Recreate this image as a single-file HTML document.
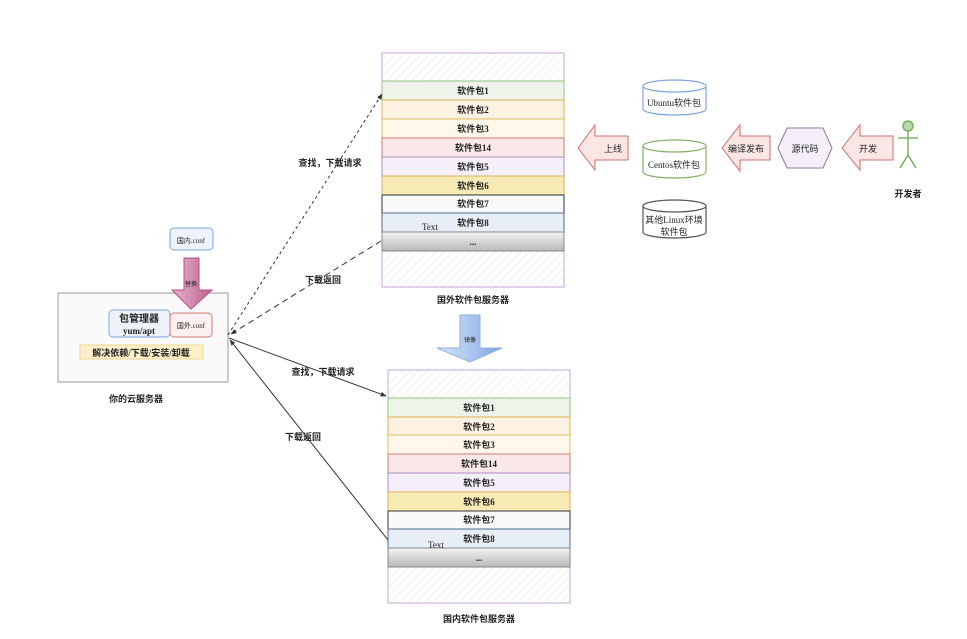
<!DOCTYPE html>
<html><head><meta charset="utf-8"><style>
html,body{margin:0;padding:0;background:#fff;width:967px;height:639px;overflow:hidden}
svg text{font-family:"Liberation Serif","Noto Sans CJK SC",serif;font-size:9px;fill:#222}
.b{font-weight:bold}
</style></head><body>
<svg width="967" height="639" viewBox="0 0 967 639" xmlns="http://www.w3.org/2000/svg">
<defs>
<pattern id="h" width="6" height="6" patternUnits="userSpaceOnUse" patternTransform="rotate(45)"><line x1="0" y1="0" x2="0" y2="6" stroke="#e6e0ea" stroke-width="1"/></pattern>
<linearGradient id="g" x1="0" y1="0" x2="0" y2="1"><stop offset="0" stop-color="#f4f4f4"/><stop offset="1" stop-color="#b8b8b8"/></linearGradient>
<linearGradient id="bl" x1="0" y1="0" x2="1" y2="0"><stop offset="0" stop-color="#dae8fc"/><stop offset="1" stop-color="#7ea6e0"/></linearGradient>
<linearGradient id="pk" x1="0" y1="0" x2="1" y2="0"><stop offset="0" stop-color="#e6b3cc"/><stop offset="1" stop-color="#c0628f"/></linearGradient>
<marker id="ar" viewBox="0 0 10 10" refX="9" refY="5" markerWidth="6" markerHeight="6" orient="auto"><path d="M0,1 L10,5 L0,9 z" fill="#333"/></marker>
</defs>

<!-- upper server -->
<rect x="382" y="53" width="182" height="234" fill="url(#h)" stroke="#c3a9d6"/>
<g>
<rect x="382" y="81" width="182" height="19" fill="#eef4ea" stroke="#97c27e"/>
<rect x="382" y="100" width="182" height="19" fill="#fdf1e2" stroke="#e0b050"/>
<rect x="382" y="119" width="182" height="19" fill="#fff8ea" stroke="#dcbc60"/>
<rect x="382" y="138" width="182" height="19" fill="#fbe9e9" stroke="#d07a76"/>
<rect x="382" y="157" width="182" height="19" fill="#f4eff9" stroke="#ab8ec3"/>
<rect x="382" y="176" width="182" height="19" fill="#f8eab4" stroke="#d6b656"/>
<rect x="382" y="195" width="182" height="18" fill="#fafafa" stroke="#333"/>
<rect x="382" y="213" width="182" height="19" fill="#e8eef5" stroke="#4d6a8a"/>
<rect x="382" y="232" width="182" height="19" fill="url(#g)" stroke="#888"/>
</g>
<g class="b" text-anchor="middle">
<text x="473" y="94">软件包1</text><text x="473" y="113">软件包2</text><text x="473" y="132">软件包3</text>
<text x="473" y="151">软件包14</text><text x="473" y="170">软件包5</text><text x="473" y="189">软件包6</text>
<text x="473" y="207">软件包7</text><text x="473" y="226">软件包8</text><text x="473" y="245">...</text>
</g>
<text x="422" y="230" fill="#555">Text</text>
<text x="473" y="303" class="b" text-anchor="middle">国外软件包服务器</text>

<!-- mirror arrow -->
<path d="M460,315 H480 V348 H502 L470,362 L437,348 H460 Z" fill="url(#bl)" stroke="#8fb0dc"/>
<text x="470" y="342" text-anchor="middle" style="font-size:6px">镜像</text>

<!-- lower server -->
<rect x="388" y="370" width="182" height="233" fill="url(#h)" stroke="#c3a9d6"/>
<g>
<rect x="388" y="398" width="182" height="19" fill="#eef4ea" stroke="#97c27e"/>
<rect x="388" y="417" width="182" height="18" fill="#fdf1e2" stroke="#e0b050"/>
<rect x="388" y="435" width="182" height="19" fill="#fff8ea" stroke="#dcbc60"/>
<rect x="388" y="454" width="182" height="19" fill="#fbe9e9" stroke="#d07a76"/>
<rect x="388" y="473" width="182" height="19" fill="#f4eff9" stroke="#ab8ec3"/>
<rect x="388" y="492" width="182" height="19" fill="#f8eab4" stroke="#d6b656"/>
<rect x="388" y="511" width="182" height="18" fill="#fafafa" stroke="#333"/>
<rect x="388" y="529" width="182" height="19" fill="#e8eef5" stroke="#4d6a8a"/>
<rect x="388" y="548" width="182" height="19" fill="url(#g)" stroke="#888"/>
</g>
<g class="b" text-anchor="middle">
<text x="479" y="411">软件包1</text><text x="479" y="430">软件包2</text><text x="479" y="448">软件包3</text>
<text x="479" y="467">软件包14</text><text x="479" y="486">软件包5</text><text x="479" y="505">软件包6</text>
<text x="479" y="523">软件包7</text><text x="479" y="542">软件包8</text><text x="479" y="561">...</text>
</g>
<text x="428" y="548" fill="#555">Text</text>
<text x="479" y="622" class="b" text-anchor="middle">国内软件包服务器</text>

<!-- cloud server -->
<rect x="58" y="293" width="170" height="89" fill="#fafafa" stroke="#999"/>
<rect x="109" y="310" width="61" height="27" rx="4" fill="#eef3fb" stroke="#7ea6e0"/>
<text x="139" y="322" class="b" text-anchor="middle" style="font-size:10px">包管理器</text>
<text x="139" y="334" class="b" text-anchor="middle">yum/apt</text>
<rect x="170" y="313" width="42" height="24" rx="4" fill="#fdf0f0" stroke="#d07a76"/>
<text x="191" y="328" text-anchor="middle" style="font-size:7px">国外.conf</text>
<rect x="80" y="345" width="123" height="14" fill="#fdf0c8" stroke="#f0d890"/>
<text x="141" y="356" class="b" text-anchor="middle">解决依赖/下载/安装/卸载</text>
<rect x="170" y="228" width="43" height="22" rx="4" fill="#eef3fb" stroke="#7ea6e0"/>
<text x="191" y="243" text-anchor="middle" style="font-size:7px">国内.conf</text>
<path d="M184,258 H199 V290 H212 L191,309 L172,290 H184 Z" fill="url(#pk)" stroke="#b0507e"/>
<text x="191" y="286" text-anchor="middle" style="font-size:6px">替换</text>
<text x="136" y="402" class="b" text-anchor="middle">你的云服务器</text>

<!-- connectors -->
<line x1="228" y1="335" x2="382" y2="94" stroke="#333" stroke-dasharray="3,3" marker-end="url(#ar)"/>
<line x1="381" y1="241" x2="231" y2="334" stroke="#333" stroke-dasharray="6,4" marker-end="url(#ar)"/>
<line x1="229" y1="338" x2="386" y2="396" stroke="#333" marker-end="url(#ar)"/>
<line x1="388" y1="540" x2="230" y2="340" stroke="#333" marker-end="url(#ar)"/>
<text x="330" y="166" class="b" text-anchor="middle">查找，下载请求</text>
<text x="323" y="283" class="b" text-anchor="middle">下载返回</text>
<text x="323" y="375" class="b" text-anchor="middle">查找，下载请求</text>
<text x="303" y="440" class="b" text-anchor="middle">下载返回</text>

<!-- right side -->
<path d="M628,136 V160 H595 V170 L578,148 L595,125 V136 Z" fill="#fbe6e6" stroke="#d0706c"/>
<text x="604" y="152" style="font-family:'Liberation Sans','Noto Sans CJK SC',sans-serif">上线</text>

<g fill="#fff" stroke-width="1.2">
<path d="M643,86 V109 A31.5,6 0 0 0 706,109 V86" stroke="#7ea6e0"/><ellipse cx="674.5" cy="86" rx="31.5" ry="6" stroke="#7ea6e0"/>
<path d="M643,146 V172 A31.5,6 0 0 0 706,172 V146" stroke="#82b366"/><ellipse cx="674.5" cy="146" rx="31.5" ry="6" stroke="#82b366"/>
<path d="M643,206 V232 A31.5,6 0 0 0 706,232 V206" stroke="#555"/><ellipse cx="674.5" cy="206" rx="31.5" ry="6" stroke="#555"/>
</g>
<text x="674" y="106" text-anchor="middle" fill="#444">Ubuntu软件包</text>
<text x="674" y="168" text-anchor="middle" fill="#444">Centos软件包</text>
<text x="674" y="223" text-anchor="middle" fill="#444">其他Linux环境</text>
<text x="674" y="235" text-anchor="middle" fill="#444">软件包</text>

<path d="M770,136 V160 H740 V171 L722,148 L740,125 V136 Z" fill="#fbe6e6" stroke="#d0706c"/>
<text x="746" y="152" text-anchor="middle" style="font-family:'Liberation Sans','Noto Sans CJK SC',sans-serif">编译发布</text>
<path d="M787,128 H823 L832,148 L823,168 H787 L778,148 Z" fill="#f4eff9" stroke="#9673a6"/>
<text x="805" y="152" text-anchor="middle" style="font-family:'Liberation Sans','Noto Sans CJK SC',sans-serif">源代码</text>
<path d="M893,136 V160 H860 V170 L842,148 L860,125 V136 Z" fill="#fbe6e6" stroke="#d0706c"/>
<text x="868" y="152" text-anchor="middle" style="font-family:'Liberation Sans','Noto Sans CJK SC',sans-serif">开发</text>

<g stroke="#6aa84f" stroke-width="1.3" fill="none">
<circle cx="908" cy="126" r="5" fill="#b6d7a8"/>
<line x1="908" y1="131" x2="908" y2="155"/>
<line x1="898" y1="138" x2="918" y2="138"/>
<line x1="908" y1="155" x2="900" y2="168"/>
<line x1="908" y1="155" x2="916" y2="168"/>
</g>
<text x="908" y="197" class="b" text-anchor="middle">开发者</text>
</svg>
</body></html>
